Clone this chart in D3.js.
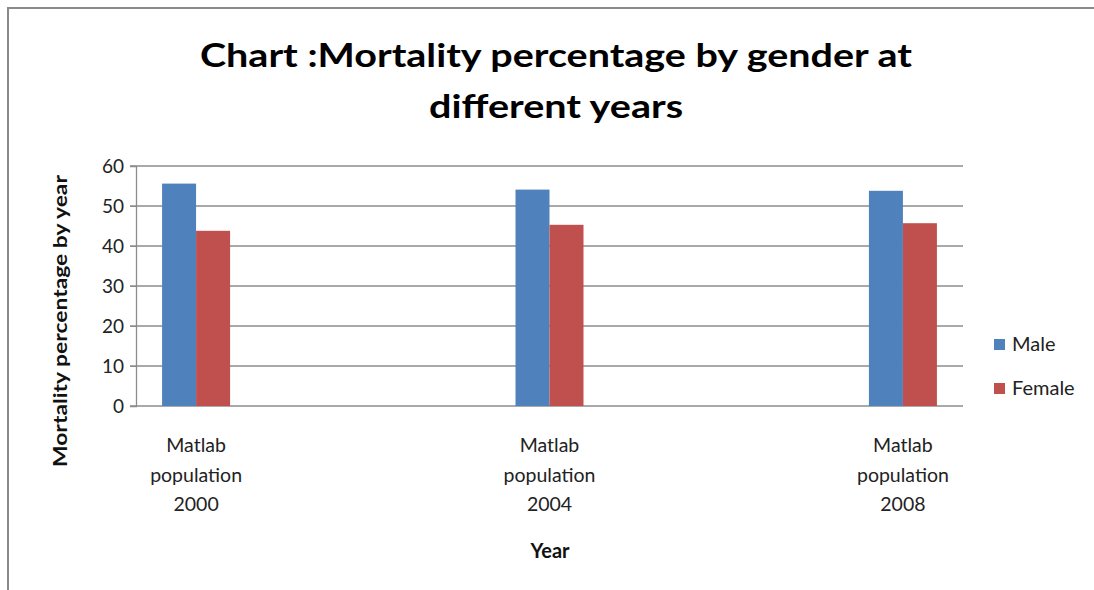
<!DOCTYPE html>
<html>
<head>
<meta charset="utf-8">
<script src="https://cdn.jsdelivr.net/npm/d3@7"></script>
<style>
  body { margin: 0; background: #fff; }
  svg { display: block; font-family: Lato, "Open Sans", sans-serif; }
</style>
</head>
<body>
<svg id="chart" width="1094" height="590"></svg>
<script>
// chart values
const categories = ["2000", "2004", "2008"];
const seriesNames = ["Male", "Female"];
const maleValues = [55.6, 54.1, 53.8];
const femaleValues = [43.8, 45.3, 45.7];
const yTicks = [0, 10, 20, 30, 40, 50, 60];
const colors = ["#4F81BD", "#C0504D"];

const svg = d3.select("#chart");
const plot = { left: 136, right: 963, top: 166, bottom: 406 };
const font = "Lato, 'Open Sans', sans-serif";

// outer frame (only top and left edges are inside the picture)
svg.append("path")
    .attr("d", "M8,600 L8,8 L1100,8")
    .attr("fill", "none").attr("stroke", "#8a8a8a").attr("stroke-width", 2);

const x = d3.scalePoint().domain(categories).range([plot.left, plot.right]).padding(0.17);
const y = d3.scaleLinear().domain([0, 60]).range([plot.bottom, plot.top]);
const barW = 34;

// gridlines
svg.append("g").selectAll("line").data(yTicks).enter().append("line")
    .attr("x1", plot.left - 6).attr("x2", plot.right)
    .attr("y1", d => y(d)).attr("y2", d => y(d))
    .attr("stroke", "#8c8c8c").attr("stroke-width", 1.3);

// y axis
const yAxis = svg.append("g").attr("transform", `translate(${plot.left},0)`)
    .call(d3.axisLeft(y).tickValues(yTicks).tickSize(6).tickPadding(6));
yAxis.attr("font-family", font);
yAxis.select(".domain").attr("stroke", "#8c8c8c").attr("stroke-width", 1.3);
yAxis.selectAll(".tick line").attr("stroke", "#8c8c8c");
yAxis.selectAll("text").style("font-size", "19px").attr("fill", "#222");

// bars
const rows = categories.map((c, i) => ({ cat: c, vals: [maleValues[i], femaleValues[i]] }));
const grp = svg.append("g").selectAll("g").data(rows).enter().append("g")
    .attr("transform", d => `translate(${x(d.cat)},0)`);
grp.selectAll("rect").data(d => d.vals).enter().append("rect")
    .attr("x", (d, i) => (i - 1) * barW)
    .attr("y", d => y(d))
    .attr("width", barW)
    .attr("height", d => plot.bottom - y(d))
    .attr("fill", (d, i) => colors[i]);

// category labels
const catLabels = svg.append("g").selectAll("text").data(categories).enter().append("text")
    .attr("x", d => x(d)).attr("y", 452)
    .attr("text-anchor", "middle")
    .style("font-size", "19.5px").attr("fill", "#222");
catLabels.each(function(d) {
    const t = d3.select(this);
    ["Matlab", "population", d].forEach((line, k) => {
        t.append("tspan").attr("x", x(d)).attr("dy", k === 0 ? 0 : 29.5).text(line);
    });
});

// axis titles
svg.append("text").attr("x", 550).attr("y", 558).attr("text-anchor", "middle")
    .style("font-size", "20px").style("font-weight", "bold").attr("fill", "#111").text("Year");
svg.append("text").attr("transform", "translate(67,321) rotate(-90)").attr("text-anchor", "middle")
    .style("font-size", "18px").style("font-weight", "bold").attr("fill", "#111")
    .attr("textLength", 292).attr("lengthAdjust", "spacingAndGlyphs")
    .text("Mortality percentage by year");

// title
svg.append("text").attr("x", 556).attr("y", 67).attr("text-anchor", "middle")
    .style("font-size", "33px").style("font-weight", "bold").attr("fill", "#000")
    .attr("textLength", 712).attr("lengthAdjust", "spacingAndGlyphs")
    .text("Chart :Mortality percentage by gender at");
svg.append("text").attr("x", 556).attr("y", 118).attr("text-anchor", "middle")
    .style("font-size", "33px").style("font-weight", "bold").attr("fill", "#000")
    .attr("textLength", 254).attr("lengthAdjust", "spacingAndGlyphs")
    .text("different years");

// legend
const leg = svg.append("g").selectAll("g").data(seriesNames).enter().append("g")
    .attr("transform", (d, i) => `translate(994,${339 + i * 44})`);
leg.append("rect").attr("width", 11).attr("height", 11).attr("fill", (d, i) => colors[i]);
leg.append("text").attr("x", 18).attr("y", 12).style("font-size", "20px").attr("fill", "#222").text(d => d);
</script>
</body>
</html>
